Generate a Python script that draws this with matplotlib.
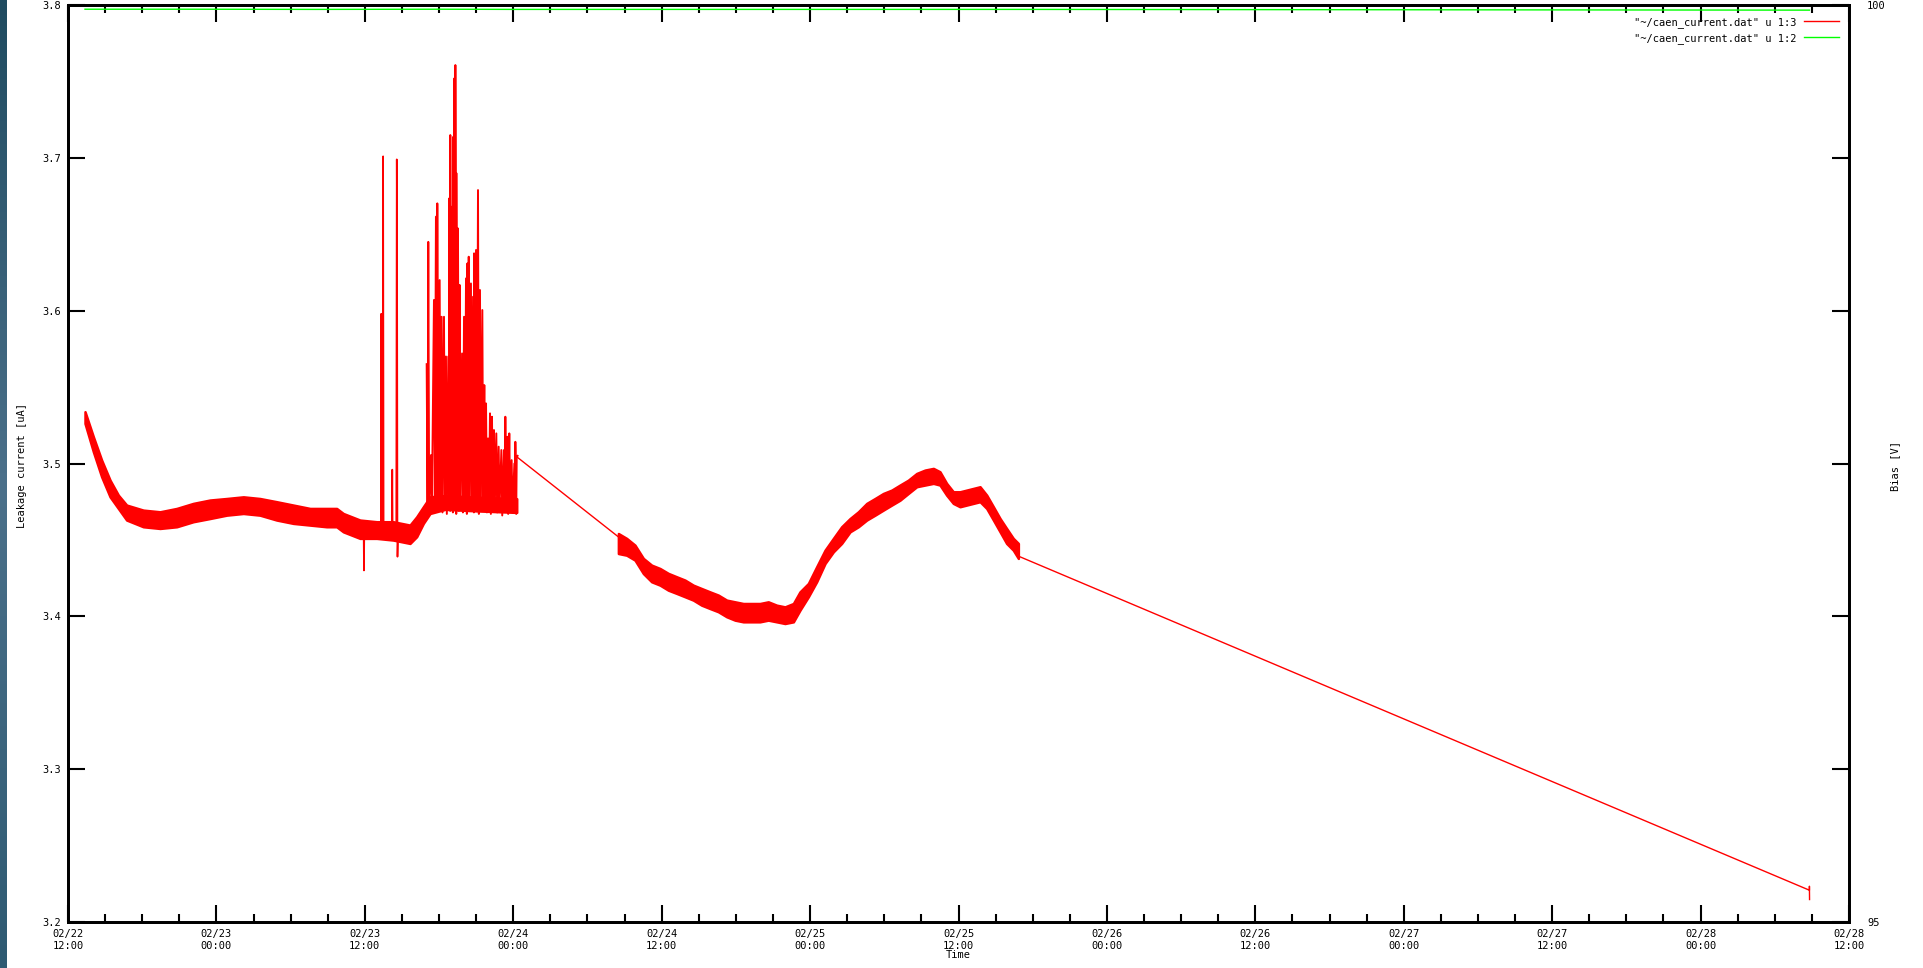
import numpy as np
import matplotlib
matplotlib.use("Agg")
import matplotlib.pyplot as plt
from matplotlib.colors import LinearSegmentedColormap

# ---------------- data (hours since 02/22 12:00) ----------------
# first stable band: time, upper envelope, lower envelope
band1_t = [1.375, 2.05, 2.72, 3.40, 4.07, 4.74, 6.09, 7.44, 8.79, 10.13, 11.48, 12.83,
           14.18, 15.52, 16.87, 18.22, 19.57, 20.91, 21.72, 22.26, 23.61, 24.96, 26.30,
           27.65, 28.19, 28.73, 29.27, 30.50, 33.00, 36.28]
band1_hi = [3.5339, 3.5175, 3.5022, 3.4891, 3.4793, 3.4728, 3.4695, 3.4684, 3.4706, 3.4739,
            3.4761, 3.4771, 3.4782, 3.4771, 3.4750, 3.4728, 3.4706, 3.4706, 3.4706, 3.4673,
            3.4630, 3.4619, 3.4619, 3.4597, 3.4651, 3.4717, 3.4782, 3.4790, 3.4780, 3.4770]
band1_lo = [3.5262, 3.5077, 3.4913, 3.4782, 3.4706, 3.4630, 3.4586, 3.4575, 3.4586, 3.4619,
            3.4640, 3.4662, 3.4673, 3.4662, 3.4630, 3.4608, 3.4597, 3.4586, 3.4586, 3.4553,
            3.4510, 3.4510, 3.4499, 3.4477, 3.4521, 3.4608, 3.4673, 3.4700, 3.4690, 3.4680]

# isolated spikes (polyline of base / peak points)
spike_t = [23.90, 23.93, 23.96,
           25.30, 25.33, 25.36, 25.44, 25.48, 25.52,
           26.19, 26.22, 26.25,
           26.54, 26.58, 26.61, 26.64, 26.67]
spike_v = [3.457, 3.430, 3.456,
           3.458, 3.598, 3.455, 3.460, 3.701, 3.456,
           3.455, 3.496, 3.454,
           3.458, 3.699, 3.632, 3.439, 3.452]

# dense spike cluster: peak times/values and the trough that follows each peak
cluster_t = [29.00, 29.13, 29.35, 29.59, 29.75, 29.86, 30.05, 30.21, 30.40, 30.56,
             30.75, 30.83, 30.91, 31.05, 31.16, 31.24, 31.32, 31.40, 31.53, 31.67,
             31.86, 32.02, 32.18, 32.29, 32.40, 32.58, 32.75, 32.83, 32.99, 33.15,
             33.31, 33.50, 33.66, 33.80, 33.96, 34.12, 34.28, 34.44, 34.63, 34.82,
             35.04, 35.25, 35.36, 35.52, 35.68, 35.87, 36.09, 36.17, 36.28]
cluster_peak = [3.565, 3.645, 3.5055, 3.607, 3.6615, 3.6702, 3.620, 3.596, 3.596, 3.570,
                3.570, 3.6735, 3.7149, 3.668, 3.7138, 3.752, 3.7607, 3.690, 3.6538, 3.6168,
                3.572, 3.596, 3.6211, 3.6309, 3.6353, 3.6178, 3.6091, 3.6375, 3.6397, 3.6789,
                3.6135, 3.6004, 3.5513, 3.5393, 3.5164, 3.5328, 3.5306, 3.5219, 3.5197, 3.511,
                3.5088, 3.5088, 3.5306, 3.5175, 3.5197, 3.5022, 3.500, 3.5142, 3.5044]
cluster_trough = [3.470, 3.472, 3.468, 3.474, 3.470, 3.469, 3.473, 3.468, 3.471, 3.467,
                  3.474, 3.469, 3.472, 3.468, 3.473, 3.470, 3.467, 3.472, 3.469, 3.474,
                  3.468, 3.471, 3.467, 3.473, 3.469, 3.472, 3.468, 3.470, 3.473, 3.467,
                  3.471, 3.469, 3.474, 3.468, 3.472, 3.467, 3.470, 3.473, 3.468, 3.471,
                  3.466, 3.472, 3.469, 3.467, 3.473, 3.468, 3.471, 3.467, 3.505]

# second stable band
band2_t = [44.50, 45.17, 45.84, 46.52, 47.19, 47.87, 48.54, 49.21, 49.89, 50.56, 51.23,
           51.91, 52.58, 53.26, 53.93, 54.60, 55.28, 55.95, 56.62, 57.30, 57.97, 58.65,
           59.18, 59.86, 60.53, 61.21, 61.88, 62.55, 63.23, 63.90, 64.58, 65.25, 65.92,
           66.60, 67.27, 67.94, 68.62, 69.29, 69.97, 70.50, 71.04, 71.58, 72.12, 72.66,
           73.20, 73.74, 74.28, 74.82, 75.36, 75.89, 76.43, 76.84]
band2_hi = [3.4542, 3.4510, 3.4466, 3.4379, 3.4335, 3.4313, 3.4281, 3.4259, 3.4237, 3.4204,
            3.4182, 3.4160, 3.4139, 3.4106, 3.4095, 3.4084, 3.4084, 3.4084, 3.4095, 3.4073,
            3.4062, 3.4084, 3.4160, 3.4215, 3.4324, 3.4433, 3.4510, 3.4586, 3.4640, 3.4684,
            3.4739, 3.4771, 3.4804, 3.4826, 3.4859, 3.4891, 3.4935, 3.4957, 3.4968, 3.4946,
            3.4870, 3.4815, 3.4815, 3.4826, 3.4837, 3.4848, 3.4793, 3.4717, 3.4640, 3.4575,
            3.4510, 3.4477]
band2_lo = [3.4411, 3.4400, 3.4368, 3.4280, 3.4226, 3.4204, 3.4171, 3.4150, 3.4128, 3.4106,
            3.4073, 3.4051, 3.4030, 3.3997, 3.3975, 3.3964, 3.3964, 3.3964, 3.3975, 3.3964,
            3.3953, 3.3964, 3.4040, 3.4128, 3.4226, 3.4346, 3.4422, 3.4477, 3.4553, 3.4586,
            3.4630, 3.4662, 3.4695, 3.4728, 3.4760, 3.4804, 3.4848, 3.4859, 3.4870, 3.4859,
            3.4793, 3.4739, 3.4717, 3.4728, 3.4739, 3.4750, 3.4706, 3.4630, 3.4553, 3.4477,
            3.4433, 3.4379]

# connecting straight segments across data gaps
gap1_t = [36.28, 44.50]
gap1_v = [3.5044, 3.4520]
gap2_t = [76.84, 140.80, 140.80, 140.81]
gap2_v = [3.4394, 3.2208, 3.2234, 3.2147]

# bias voltage (right axis)
bias_t = [1.375, 10.0, 20.0, 30.0, 36.28, 44.50, 60.0, 76.84, 140.80]
bias_v = [99.977, 99.977, 99.976, 99.977, 99.976, 99.976, 99.976, 99.976, 99.972]

xtick_pos = [0, 12, 24, 36, 48, 60, 72, 84, 96, 108, 120, 132, 144]
xtick_labels = ["02/22\n12:00", "02/23\n00:00", "02/23\n12:00", "02/24\n00:00",
                "02/24\n12:00", "02/25\n00:00", "02/25\n12:00", "02/26\n00:00",
                "02/26\n12:00", "02/27\n00:00", "02/27\n12:00", "02/28\n00:00",
                "02/28\n12:00"]
ytick_pos = [3.2, 3.3, 3.4, 3.5, 3.6, 3.7, 3.8]
ytick_labels = ["3.2", "3.3", "3.4", "3.5", "3.6", "3.7", "3.8"]
y2tick_pos = [95, 100]
y2tick_labels = ["95", "100"]

legend_red = '"~/caen_current.dat" u 1:3'
legend_green = '"~/caen_current.dat" u 1:2'

# ---------------- figure ----------------
W, H = 1923, 968
fig = plt.figure(figsize=(W / 100, H / 100), dpi=100)
fig.patch.set_facecolor("white")
FONT = "DejaVu Sans Mono"
FS = 7.5

# left decorative strip
strip = fig.add_axes([0, 0, 7 / W, 1])
cmap = LinearSegmentedColormap.from_list("strip", ["#1f4b60", "#4b708a", "#2e5a72"])
strip.imshow(np.linspace(0, 1, 256).reshape(-1, 1), aspect="auto", cmap=cmap,
             extent=[0, 1, 0, 1], origin="upper")
strip.set_axis_off()

L, R, T, B = 68, 1849, 5, 922
ax = fig.add_axes([L / W, 1 - B / H, (R - L) / W, (B - T) / H])
ax2 = ax.twinx()

red = "#ff0000"
green = "#00ff00"

ax.fill_between(band1_t, band1_lo, band1_hi, color=red, lw=1.8, edgecolor=red)
ax.fill_between(band2_t, band2_lo, band2_hi, color=red, lw=1.8, edgecolor=red)
ax.plot(spike_t, spike_v, color=red, lw=1.2)

ct, cv = [], []
for t, p, q in zip(cluster_t, cluster_peak, cluster_trough):
    ct += [t, t + 0.07]
    cv += [p, q]
ax.plot(ct, cv, color=red, lw=1.4)
ax.plot(gap1_t, gap1_v, color=red, lw=1.0)
red_line, = ax.plot(gap2_t, gap2_v, color=red, lw=1.0)

green_line, = ax2.plot(bias_t, bias_v, color=green, lw=1.0)

ax.set_xlim(0, 144)
ax.set_ylim(3.2, 3.8)
ax2.set_ylim(95, 100)

ax.set_xticks(xtick_pos)
ax.set_xticklabels(xtick_labels, fontfamily=FONT, fontsize=FS, linespacing=1.25)
ax.set_xticks(np.arange(0, 145, 3), minor=True)
ax.set_yticks(ytick_pos)
ax.set_yticklabels(ytick_labels, fontfamily=FONT, fontsize=FS)
ax.tick_params(axis="both", which="major", direction="in", length=12, width=1.5,
               top=True, right=True, pad=5)
ax.tick_params(axis="x", which="minor", direction="in", length=6, width=1.5, top=True)
ax.tick_params(axis="y", which="minor", left=False, right=False)
ax2.set_yticks(y2tick_pos)
ax2.set_yticklabels(y2tick_labels, fontfamily=FONT, fontsize=FS)
ax2.tick_params(axis="y", direction="in", length=0, pad=13)
for a in (ax, ax2):
    for s in a.spines.values():
        s.set_linewidth(2)
        s.set_color("black")

fig.text(22 / W, 1 - 465 / H, "Leakage current [uA]", rotation=90, ha="center",
         va="center", fontfamily=FONT, fontsize=FS)
fig.text(1895 / W, 1 - 466 / H, "Bias [V]", rotation=90, ha="center", va="center",
         fontfamily=FONT, fontsize=FS)
fig.text(958 / W, 1 - 955 / H, "Time", ha="center", va="center",
         fontfamily=FONT, fontsize=FS)

leg = ax.legend([red_line, green_line], [legend_red, legend_green], loc="upper right",
                bbox_to_anchor=(1839 / W, 1 - 17 / H), bbox_transform=fig.transFigure,
                frameon=False, markerfirst=False, borderaxespad=0, borderpad=0,
                handlelength=3.4, handletextpad=0.7, labelspacing=0.5,
                prop={"family": FONT, "size": FS})

fig.savefig("out.png", dpi=100)
